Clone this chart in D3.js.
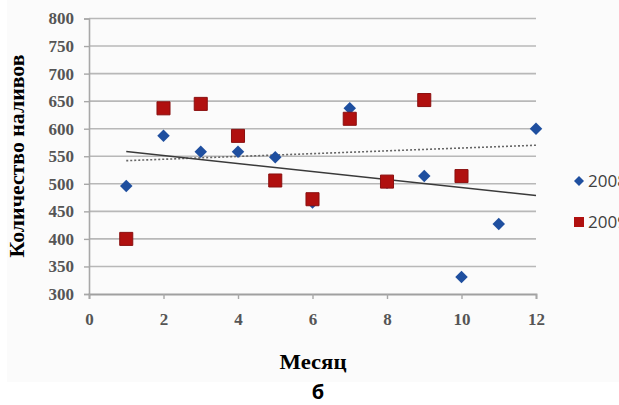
<!DOCTYPE html>
<meta charset="utf-8">
<style>
body { margin: 0; background: #fff; }
</style>
<svg id="svg" width="619" height="405"></svg>
<script src="https://d3js.org/d3.v7.min.js"></script>
<script>
// months
var months = [1, 2, 3, 4, 5, 6, 7, 8, 9, 10, 11, 12];

// series values
var seriesNames = ["2008", "2009"];
var values2008 = [496, 587, 558, 558, 548, 466, 637, 502, 514, 331, 427, 600];
var values2009 = [400, 637, 645, 587, 506, 472, 618, 504, 652, 514];

// dotted trend line ends (month, value)
var dottedTrend = [[1, 542], [12, 570]];

var xTicks = [0, 2, 4, 6, 8, 10, 12];
var yTicks = [300, 350, 400, 450, 500, 550, 600, 650, 700, 750, 800];

var svg = d3.select("svg");

var margin = {left: 89, right: 83, top: 18.5, bottom: 111};
var width = 619 - margin.left - margin.right,
    height = 405 - margin.top - margin.bottom;

// light chart backdrop
svg.append("rect")
    .attr("x", 7).attr("y", 0)
    .attr("width", 612).attr("height", 382)
    .attr("fill", "#fbfbfb");

var g = svg.append("g")
    .attr("transform", "translate(" + margin.left + "," + margin.top + ")");

var x = d3.scaleLinear().domain([0, 12]).range([0, width]);
var y = d3.scaleLinear().domain([300, 800]).range([height, 0]);

// grid lines
g.append("g")
    .selectAll("line")
    .data(yTicks.slice(1))
    .enter().append("line")
    .attr("x1", 0).attr("x2", width)
    .attr("y1", function(d) { return y(d); })
    .attr("y2", function(d) { return y(d); })
    .attr("stroke", "#b8b8b8")
    .attr("stroke-width", 1.6);

// y axis
var yAxis = g.append("g")
    .call(d3.axisLeft(y).tickValues(yTicks).tickSize(5).tickPadding(10));
yAxis.select(".domain").attr("stroke", "#a8a8a8").attr("stroke-width", 1.6);
yAxis.selectAll(".tick line").attr("stroke", "#a8a8a8").attr("stroke-width", 1.4);
yAxis.selectAll("text")
    .attr("font-family", "Liberation Serif")
    .attr("font-weight", "bold")
    .attr("font-size", 17)
    .attr("fill", "#555");

// x axis
var xAxis = g.append("g")
    .attr("transform", "translate(0," + height + ")")
    .call(d3.axisBottom(x).tickValues(xTicks).tickSize(5).tickPadding(14));
xAxis.select(".domain").attr("stroke", "#a0a0a0").attr("stroke-width", 1.8);
xAxis.selectAll(".tick line").attr("stroke", "#a8a8a8").attr("stroke-width", 1.4);
xAxis.selectAll("text")
    .attr("font-family", "Liberation Serif")
    .attr("font-weight", "bold")
    .attr("font-size", 17)
    .attr("fill", "#555");

// linear trend of the 2008 series
var mx = d3.mean(months), my = d3.mean(values2008);
var sxy = d3.sum(months, function(m, i) { return (m - mx) * (values2008[i] - my); });
var sxx = d3.sum(months, function(m) { return (m - mx) * (m - mx); });
var slope = sxy / sxx;
var solidTrend = [[1, my + slope * (1 - mx)], [12, my + slope * (12 - mx)]];

var line = d3.line()
    .x(function(d) { return x(d[0]); })
    .y(function(d) { return y(d[1]); });

g.append("path")
    .datum(dottedTrend)
    .attr("d", line)
    .attr("fill", "none")
    .attr("stroke", "#666")
    .attr("stroke-width", 1.6)
    .attr("stroke-dasharray", "2,2");

g.append("path")
    .datum(solidTrend)
    .attr("d", line)
    .attr("fill", "none")
    .attr("stroke", "#3a3a3a")
    .attr("stroke-width", 1.5);

var diamond = d3.symbol().type(d3.symbolSquare).size(78);
var square = d3.symbol().type(d3.symbolSquare).size(170);

// 2008 diamonds
g.append("g")
    .selectAll("path")
    .data(values2008)
    .enter().append("path")
    .attr("d", diamond)
    .attr("transform", function(d, i) {
        return "translate(" + x(months[i]) + "," + y(d) + ") rotate(45)";
    })
    .attr("fill", "#1f4f9f");

// 2009 squares
g.append("g")
    .selectAll("path")
    .data(values2009)
    .enter().append("path")
    .attr("d", square)
    .attr("transform", function(d, i) {
        return "translate(" + x(months[i]) + "," + y(d) + ")";
    })
    .attr("fill", "#b0100f")
    .attr("stroke", "#8a1010")
    .attr("stroke-width", 1);

// legend (clipped at the right edge, like the source image)
var legend = svg.append("g");
legend.append("path")
    .attr("d", d3.symbol().type(d3.symbolSquare).size(50))
    .attr("transform", "translate(579,181) rotate(45)")
    .attr("fill", "#1f4f9f");
legend.append("path")
    .attr("d", d3.symbol().type(d3.symbolSquare).size(100))
    .attr("transform", "translate(579,222)")
    .attr("fill", "#b0100f");
legend.selectAll("text")
    .data(seriesNames)
    .enter().append("text")
    .attr("x", 588)
    .attr("y", function(d, i) { return 187 + i * 41; })
    .attr("font-family", "Open Sans")
    .attr("font-size", 17)
    .attr("fill", "#404040")
    .text(function(d) { return d; });

// axis titles
svg.append("text")
    .attr("transform", "translate(24,156) rotate(-90)")
    .attr("text-anchor", "middle")
    .attr("font-family", "Liberation Serif")
    .attr("font-weight", "bold")
    .attr("font-size", 20)
    .attr("textLength", 203)
    .attr("lengthAdjust", "spacingAndGlyphs")
    .text("Количество наливов");

svg.append("text")
    .attr("x", 313)
    .attr("y", 369)
    .attr("text-anchor", "middle")
    .attr("font-family", "Liberation Serif")
    .attr("font-weight", "bold")
    .attr("font-size", 21)
    .attr("textLength", 67)
    .attr("lengthAdjust", "spacingAndGlyphs")
    .text("Месяц");

svg.append("text")
    .attr("x", 318)
    .attr("y", 399)
    .attr("text-anchor", "middle")
    .attr("font-family", "Open Sans")
    .attr("font-weight", "bold")
    .attr("font-size", 20)
    .text("б");
</script>
